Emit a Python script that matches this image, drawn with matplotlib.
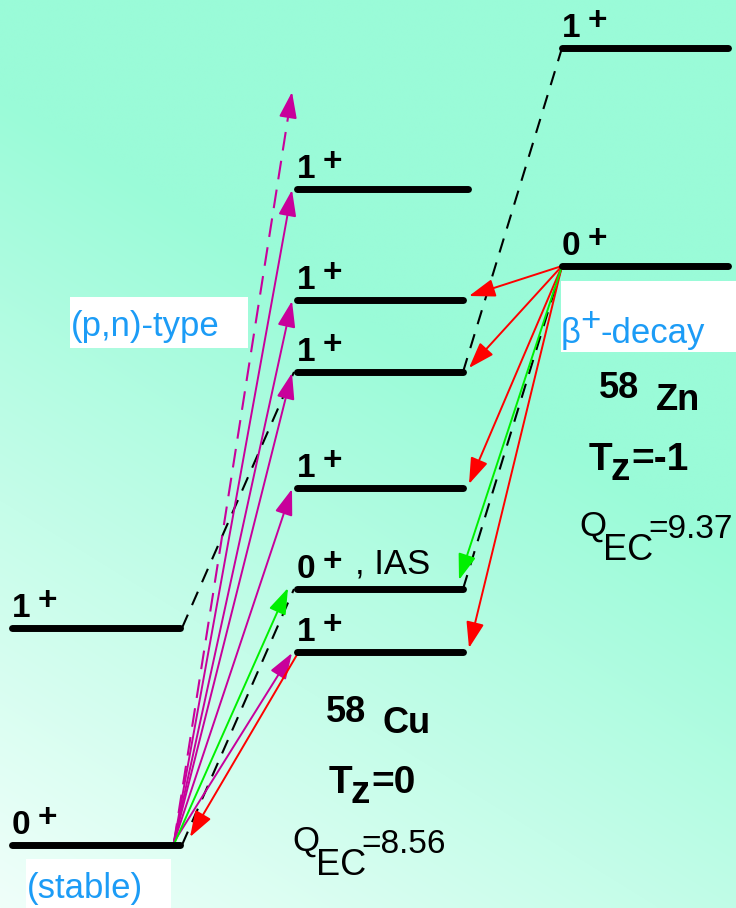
import numpy as np
import matplotlib.pyplot as plt
from matplotlib.patches import FancyArrowPatch, Rectangle

plt.rcParams['font.family'] = ['Liberation Sans', 'DejaVu Sans']

# Level schemes (schematic energy units, 58Ni ground state = 0)
ni_levels = [0, 217]
ni_spins = ["0", "1"]
cu_levels = [193, 256, 357, 473, 545, 656]
cu_spins = ["1", "0", "1", "1", "1", "1"]
zn_levels = [579, 797]
zn_spins = ["0", "1"]
continuum = 753

# transitions
pn_targets = [193, 357, 473, 545, 656]     # (p,n)-type -> 1+ states in 58Cu
beta_targets = [545, 473, 357, 193]        # beta+ decay of 58Zn 0+
ias_level = 256
# analog states joined by dashed lines: (column, level) -> (column, level)
analog_pairs = [(("ni", 217), ("cu", 473)),
                (("ni", 0), ("cu", 256)),
                (("cu", 256), ("zn", 579)),
                (("cu", 473), ("zn", 797))]

# layout (pixels)
COLS = {"ni": (12, 180), "cu": (297, 463), "zn": (562, 728)}
BASE = 845  # pixel row of the 58Ni ground state


def ypx(y):
    return BASE - y


MAGENTA = "#C8009B"
RED = "#FF0000"
GREEN = "#00F000"
BLUE = "#1C9CF6"

fig = plt.figure(figsize=(7.36, 9.08), dpi=100)
ax = fig.add_axes([0, 0, 1, 1])

# background gradient (light in lower left corner)
xs = np.linspace(0, 736, 300)
ys = np.linspace(0, 908, 370)
X, Y = np.meshgrid(xs, ys)
t = np.clip(0.00076 * X + 0.00123 * Y, 0, 1)
c0 = np.array([240, 255, 250]) / 255
c1 = np.array([154, 251, 216]) / 255
img = c0 + t[..., None] * (c1 - c0)
ax.imshow(img, extent=[0, 736, ypx(908), ypx(0)], origin="lower",
          aspect="auto", zorder=0, interpolation="bilinear")
ax.set_xlim(0, 736)
ax.set_ylim(ypx(908), ypx(0))
ax.axis("off")


def level(col, e, spin):
    x0, x1 = COLS[col]
    if col == "cu" and e == max(cu_levels):
        x1 += 5
    ax.plot([x0, x1], [e, e], color="k", lw=5, solid_capstyle="round", zorder=4)
    ax.text(x0, e + 11, spin, fontsize=24, fontweight="bold", va="baseline", zorder=5)
    ax.text(x0 + 26, e + 18, "+", fontsize=24, fontweight="bold", va="baseline", zorder=5)


for e, s in zip(ni_levels, ni_spins):
    level("ni", e, s)
for e, s in zip(cu_levels, cu_spins):
    level("cu", e, s)
for e, s in zip(zn_levels, zn_spins):
    level("zn", e, s)

ax.text(355, ias_level + 16, ", IAS", fontsize=25, va="baseline", zorder=5)


def arrow(p0, p1, color, dashed=False):
    if dashed:
        v = np.array(p1) - np.array(p0)
        base = np.array(p1) - v / np.hypot(*v) * 21
        ax.plot([p0[0], base[0]], [p0[1], base[1]], color=color, lw=1.5,
                dashes=(9, 5), zorder=3)
        p0 = tuple(base - v / np.hypot(*v) * 2)
    a = FancyArrowPatch(p0, p1, arrowstyle="-|>,head_length=1.6,head_width=0.55",
                        mutation_scale=10, color=color, lw=1.4,
                        shrinkA=0, shrinkB=0, zorder=3)
    ax.add_patch(a)


# analog dashed lines
for (ca, ea), (cb, eb) in analog_pairs:
    xa = COLS[ca][1] + (2 if ca == "ni" else 0)
    xb = COLS[cb][0] - (3 if cb == "cu" else 0)
    ax.plot([xa, xb], [ea, eb], color="k", lw=1.5, dashes=(7, 5), zorder=2)

# (p,n)-type transitions from 58Ni ground state
tail = (174, 3)
for e in pn_targets:
    arrow(tail, (COLS["cu"][0] - 5, e - 1), MAGENTA)
arrow(tail, (COLS["cu"][0] - 5, continuum), MAGENTA, dashed=True)
arrow((175, 3), (COLS["cu"][0] - 9, ias_level + 1), GREEN)

# beta+ decay of 58Zn
zn_src = (COLS["zn"][0], zn_levels[0])
for e in beta_targets:
    arrow(zn_src, (COLS["cu"][1] + 6, e + 4), RED)
arrow(zn_src, (COLS["cu"][1] - 4, ias_level + 9), GREEN)

# beta+ decay of 58Cu ground state to 58Ni
arrow((COLS["cu"][0] + 1, cu_levels[0] - 1), (190, 8), RED)

# white label boxes
for x, y, w, h in [(70, 297, 178, 51), (561, 281, 175, 71), (26, 859, 145, 49)]:
    ax.add_patch(Rectangle((x, ypx(y + h)), w, h, facecolor="white",
                           edgecolor="none", zorder=1))

ax.text(71, ypx(336), "(p,n)-type", fontsize=25, color=BLUE, va="baseline", zorder=6)
ax.text(27, ypx(898), "(stable)", fontsize=25, color=BLUE, va="baseline", zorder=6)
ax.text(561, ypx(343), "\u03b2", fontsize=25, color=BLUE, va="baseline", zorder=6)
ax.text(580, ypx(331), "+", fontsize=25, color=BLUE, va="baseline", zorder=6)
ax.text(600, ypx(343), "-decay", fontsize=25, color=BLUE, va="baseline", zorder=6)

# nucleus labels
nuclei = [
    # (mass x, baseline), (symbol x, baseline), symbol, T x/baseline, Tz value, Q x/baseline, Q value
    ((599, 398), (656, 410), "Zn", (589, 470), "=-1", (579, 536), "=9.37"),
    ((326, 722), (383, 733), "Cu", (329, 793), "=0", (292, 851), "=8.56"),
]
for (mx, my), (sx, sy), sym, (tx, ty), tz, (qx, qy), qec in nuclei:
    ax.text(mx, ypx(my), "58", fontsize=26, fontweight="bold", va="baseline", zorder=6)
    ax.text(sx, ypx(sy), sym, fontsize=26, fontweight="bold", va="baseline", zorder=6)
    ax.text(tx, ypx(ty), "T", fontsize=28, fontweight="bold", va="baseline", zorder=6)
    ax.text(tx + 21, ypx(ty + 10), "z", fontsize=28, fontweight="bold", va="baseline", zorder=6)
    ax.text(tx + 42, ypx(ty), tz, fontsize=28, fontweight="bold", va="baseline", zorder=6)
    ax.text(qx, ypx(qy), "Q", fontsize=25, va="baseline", zorder=6)
    ax.text(qx + 24, ypx(qy + 24), "EC", fontsize=26, va="baseline", zorder=6)
    ax.text(qx + 69, ypx(qy + 2), qec, fontsize=24, va="baseline", zorder=6)

fig.savefig("out.png", dpi=100)
